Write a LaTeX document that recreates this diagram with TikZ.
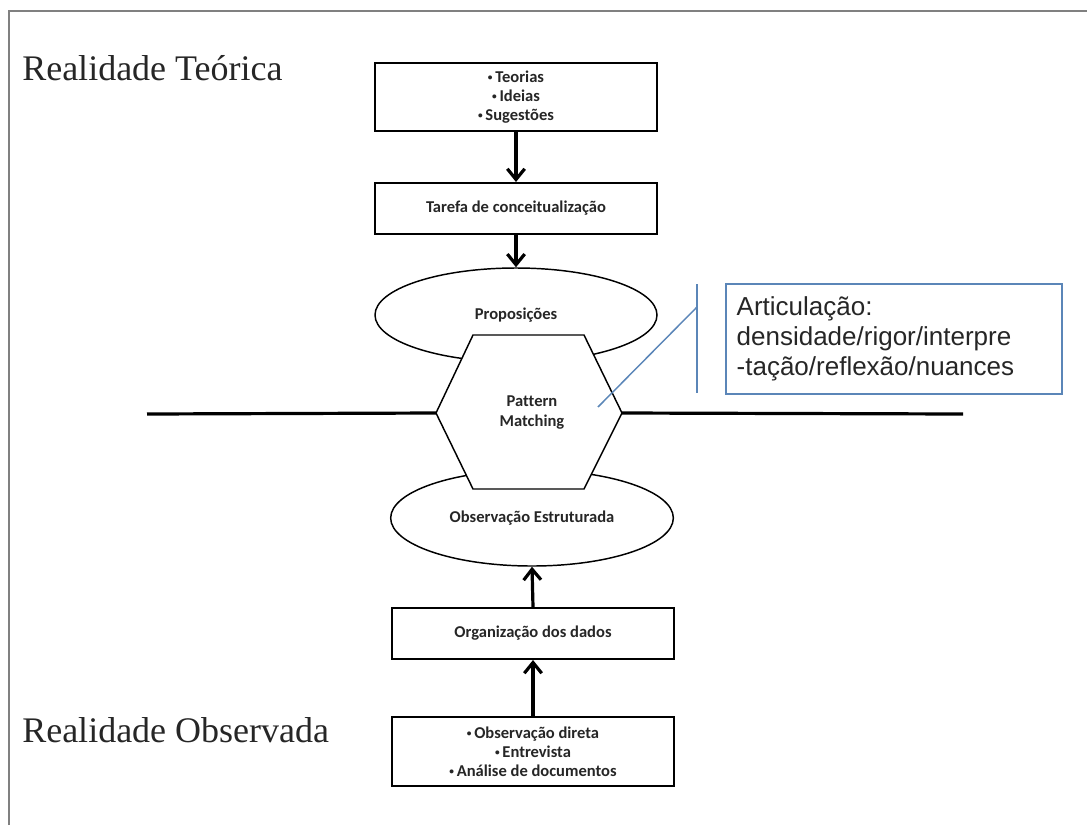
\documentclass[tikz,border=0pt]{standalone}
\usepackage{fontspec}
\setmainfont{Liberation Serif}
\newfontfamily\calfont[Ligatures=NoCommon]{Carlito}
\newfontfamily\arialfont{Liberation Sans}
\usetikzlibrary{arrows.meta,shapes.geometric}
\definecolor{calloutblue}{HTML}{5B86B8}
\definecolor{txtgray}{HTML}{262626}
\newcommand{\smallbul}{{\fontsize{7}{7}\selectfont\raisebox{1.4pt}{•}}\,}
\tikzset{
  boxnode/.style={draw=black, line width=1.5pt, fill=white, minimum width=211.5pt,
    align=center, inner sep=0pt, font=\calfont\bfseries\fontsize{12.4}{14.3}\selectfont, text=txtgray},
  ellnode/.style={ellipse, draw=black, line width=1.1pt, fill=white, minimum width=211.5pt,
    inner sep=0pt, font=\calfont\bfseries\fontsize{12.4}{14.3}\selectfont, text=txtgray},
  flowarrow/.style={line width=2.4pt, -{Straight Barb[length=8pt,width=13pt,line width=2.4pt]}},
  bigtitle/.style={font=\fontsize{27}{32}\selectfont, text=txtgray, inner sep=0pt},
  calloutline/.style={draw=calloutblue, line width=1.1pt},
}
\begin{document}
\begin{tikzpicture}[x=0.75pt,y=-0.75pt]
\useasboundingbox (0,0) rectangle (1087,825);
% frame
\draw[color=gray, line width=1.5pt] (9,825) -- (9,11) -- (1087,11);

% titles
\node[bigtitle, anchor=base west] (rt) at (22,80) {Realidade Teórica};
\node[bigtitle, anchor=base west] (ro) at (22,742) {Realidade Observada};

% upper column
\node[boxnode, minimum height=51pt] (teo) at (516,97) {\smallbul Teorias\\\smallbul Ideias\\\smallbul Sugestões};
\node[boxnode, minimum height=38.25pt] (tar) at (516,208.5) {Tarefa de conceitualização};
\node[ellnode, minimum height=70.5pt] (prop) at (516,315) {Proposições};

% lower column
\node[ellnode, minimum width=212pt, minimum height=72pt] (obs) at (532,518) {\raisebox{-3pt}{Observação Estruturada}};
\node[boxnode, minimum height=38.25pt] (org) at (533,633.5) {Organização dos dados};
\node[boxnode, minimum height=51.75pt] (met) at (533,751.5) {\smallbul Observação direta\\\smallbul Entrevista\\\smallbul Análise de documentos};

% hexagon
\coordinate (hl) at (436,413);
\coordinate (hr) at (622,413);
\draw[line width=1.1pt, fill=white] (473,335) -- (584,335) -- (hr) -- (584,489) -- (473,489) -- (hl) -- cycle;
\node[font=\calfont\bfseries\fontsize{12.4}{15}\selectfont, text=txtgray, align=center, inner sep=0pt] (pm) at (532,413) {Pattern\\Matching};

% horizontal divider
\coordinate (dl) at (147,414);
\coordinate (dr) at (963,414);
\draw[line width=2.4pt] (dl) -- (hl);
\draw[line width=2.4pt] (hr) -- (dr);

% arrows
\draw[flowarrow] (teo.south) -- (tar.north);
\draw[flowarrow] (tar.south) -- (prop.north);
\draw[flowarrow] (org.north) -- (obs.south);
\draw[flowarrow] (met.north) -- (org.south);

% callout
\node[draw=calloutblue, line width=1.1pt, minimum width=252pt, minimum height=82.5pt,
      text width=236pt, inner xsep=8pt, align=left, text=txtgray,
      font=\arialfont\fontsize{19.5}{22.5}\selectfont] (call) at (894,339)
  {\raisebox{3pt}{\parbox{236pt}{Articulação:\\densidade/rigor/interpre\\-tação/reflexão/nuances}}};
\coordinate (cbt) at (697,284);
\coordinate (cbb) at (697,393);
\coordinate (cbj) at (697,307);
\coordinate (ctip) at (598,407);
\draw[calloutline] (cbt) -- (cbb);
\draw[calloutline] (cbj) -- (ctip);
\end{tikzpicture}
\end{document}
